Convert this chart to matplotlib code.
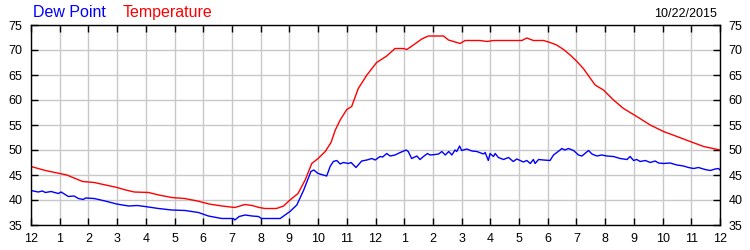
import matplotlib
matplotlib.use("Agg")
import matplotlib.pyplot as plt

plt.rcParams['font.family'] = ['Liberation Sans', 'DejaVu Sans']

# hours after midnight and readings (deg F)
temp_hours = [0, 0.25, 0.5, 0.75, 1.0, 1.25, 1.5, 1.8, 2.2, 2.6, 3.0, 3.3, 3.6, 4.1,
              4.45, 4.9, 5.35, 5.8, 6.2, 6.65, 7.1, 7.45, 7.7, 7.95, 8.15, 8.55, 8.8,
              9.0, 9.3, 9.55, 9.78, 10.0, 10.25, 10.45, 10.6, 10.77, 11.0, 11.17, 11.4,
              11.7, 12.04, 12.39, 12.68, 12.97, 13.09, 13.32, 13.61, 13.84, 14.37,
              14.54, 14.95, 15.12, 15.64, 15.88, 16.11, 17.1, 17.27, 17.5, 17.85,
              18.08, 18.31, 18.55, 18.78, 19.0, 19.24, 19.65, 19.94, 20.29, 20.64,
              21.1, 21.57, 22.03, 22.5, 22.96, 23.43, 24.0]
temp_vals = [46.7, 46.3, 45.9, 45.6, 45.3, 45.0, 44.4, 43.7, 43.5, 43.0, 42.5, 42.0,
             41.6, 41.5, 41.0, 40.5, 40.3, 39.8, 39.2, 38.8, 38.5, 39.1, 38.9, 38.5,
             38.3, 38.3, 38.8, 39.9, 41.3, 44.0, 47.3, 48.3, 49.7, 51.5, 54.0, 56.0,
             58.1, 58.7, 62.3, 65.0, 67.5, 68.8, 70.3, 70.3, 70.1, 71.0, 72.2, 72.8,
             72.8, 72.0, 71.3, 71.9, 71.9, 71.7, 71.9, 71.9, 72.4, 71.9, 71.9, 71.5,
             71.0, 70.1, 69.0, 67.8, 66.3, 63.0, 62.0, 60.0, 58.3, 56.7, 55.0, 53.7,
             52.7, 51.7, 50.7, 50.0]

dew_hours = [0, 0.25, 0.4, 0.5, 0.7, 0.95, 1.05, 1.3, 1.5, 1.65, 1.82, 1.9, 2.2, 2.58,
             2.98, 3.4, 3.7, 3.97, 4.44, 4.9, 5.37, 5.83, 6.18, 6.64, 7.05, 7.1, 7.25,
             7.46, 7.7, 7.92, 8.03, 8.68, 9.02, 9.26, 9.5, 9.75, 9.85, 10.0, 10.3,
             10.42, 10.53, 10.65, 10.77, 10.88, 11.06, 11.15, 11.32, 11.52, 11.7,
             11.87, 11.99, 12.16, 12.25, 12.39, 12.51, 12.68, 12.86, 13.07, 13.14,
             13.26, 13.44, 13.55, 13.67, 13.81, 13.9, 14.08, 14.2, 14.31, 14.43,
             14.55, 14.66, 14.77, 14.83, 14.93, 15.0, 15.18, 15.36, 15.53, 15.76,
             15.82, 15.93, 15.99, 16.11, 16.17, 16.28, 16.46, 16.63, 16.8, 16.92,
             17.04, 17.15, 17.27, 17.39, 17.5, 17.56, 17.68, 17.85, 18.08, 18.2,
             18.43, 18.49, 18.6, 18.72, 18.9, 19.07, 19.19, 19.42, 19.54, 19.71,
             19.88, 20.06, 20.29, 20.52, 20.76, 20.87, 20.99, 21.1, 21.22, 21.4,
             21.57, 21.74, 21.86, 22.03, 22.26, 22.5, 22.73, 22.9, 23.08, 23.25,
             23.48, 23.66, 23.83, 23.95, 24.0]
dew_vals = [41.9, 41.6, 41.8, 41.5, 41.7, 41.3, 41.6, 40.7, 40.8, 40.3, 40.1, 40.4,
            40.3, 39.8, 39.2, 38.8, 38.9, 38.7, 38.3, 38.0, 37.9, 37.5, 36.8, 36.3,
            36.3, 36.0, 36.7, 37.0, 36.8, 36.7, 36.3, 36.3, 37.7, 39.0, 42.0, 45.7,
            46.0, 45.3, 44.8,
            46.7, 47.7, 47.9, 47.2, 47.5, 47.3, 47.5, 46.5, 47.8, 48.0,
            48.3, 48.0, 48.7, 48.6, 49.3, 48.8, 49.0, 49.5, 50.0, 49.7,
            48.3, 48.8, 48.1, 48.7, 49.3, 49.0, 49.1, 49.2, 49.7, 49.0,
            49.7, 49.0, 50.0, 49.7, 50.8, 49.9, 50.2, 49.8, 49.7, 49.2,
            49.5, 47.9, 49.3, 48.7, 49.3, 48.5, 48.1, 48.5, 47.7, 48.2,
            47.9, 47.6, 47.9, 47.3, 48.1, 47.3, 48.1, 48.0, 47.9, 49.0,
            50.0, 50.3, 50.0, 50.3, 49.9, 49.0, 48.8, 49.9, 49.2, 48.8,
            49.0, 48.8, 48.7, 48.3, 48.1, 48.7, 47.9, 48.1, 47.7, 47.9,
            47.5, 47.8, 47.4, 47.3, 47.4, 47.0, 46.8, 46.5, 46.3, 46.5,
            46.1, 45.9, 46.2, 46.3, 46.0]

hour_labels = ['12', '1', '2', '3', '4', '5', '6', '7', '8', '9', '10', '11',
               '12', '1', '2', '3', '4', '5', '6', '7', '8', '9', '10', '11', '12']
y_ticks = [35, 40, 45, 50, 55, 60, 65, 70, 75]

fig = plt.figure(figsize=(7.5, 2.5), dpi=100)
ax = fig.add_axes([31 / 750, 25 / 250, 689 / 750, 200 / 250])

ax.plot(temp_hours, temp_vals, color='#ff0000', lw=1.0)
ax.plot(dew_hours, dew_vals, color='#0000ff', lw=1.0)

ax.set_xlim(0, 24)
ax.set_ylim(35, 75)
ax.set_xticks(range(25))
ax.set_xticklabels(hour_labels)
ax.set_yticks(y_ticks)
ax.grid(True, color='#c8c8c8', lw=1.0)
ax.set_axisbelow(True)
ax.tick_params(direction='in', length=5, width=1, color='black', labelsize=9,
               pad=6, top=True, right=True, labelright=True)
for s in ax.spines.values():
    s.set_linewidth(1.0)
    s.set_color('black')

fig.text(33 / 750, 1 - 17.3 / 250, 'Dew Point', color='#0000ff', fontsize=11.5,
         va='baseline', ha='left')
fig.text(123 / 750, 1 - 17.3 / 250, 'Temperature', color='#ff0000', fontsize=11.5,
         va='baseline', ha='left')
fig.text(717 / 750, 1 - 16.7 / 250, '10/22/2015', color='black', fontsize=9,
         va='baseline', ha='right')

fig.savefig('out.png', dpi=100)
